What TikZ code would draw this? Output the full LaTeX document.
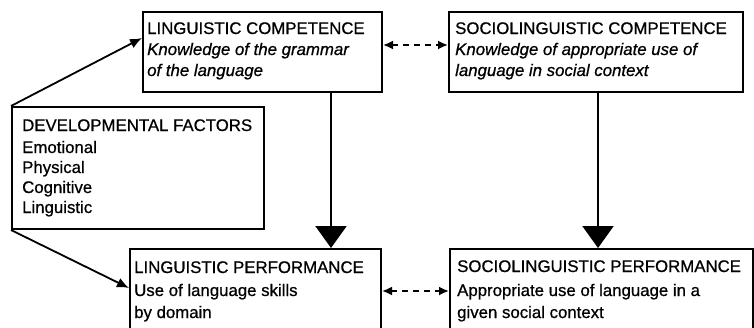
\documentclass[tikz,border=0pt]{standalone}
\usepackage{fontspec}
\setmainfont{Liberation Sans}[FakeBold=0.7]
\usetikzlibrary{arrows.meta,calc}
\begin{document}
\begin{tikzpicture}[x=1pt,y=-1pt,
  box/.style={draw, line width=2pt, inner sep=0pt, anchor=north west},
  ln/.style={anchor=base west, inner sep=0pt, font=\fontsize{16.8}{20}\selectfont},
  itl/.style={anchor=base west, inner sep=0pt, font=\fontsize{16.8}{20}\selectfont\itshape},
  arr/.style={line width=1.8pt, -{Latex[length=12pt,width=10pt]}},
  big/.style={line width=2.2pt, -{Triangle[length=22pt,width=31pt]}},
  dashboth/.style={line width=1.8pt, dash pattern=on 6pt off 5pt,
    {Latex[length=10pt,width=9pt]}-{Latex[length=10pt,width=9pt]}}]
\useasboundingbox (0,0) rectangle (754,327);
% boxes
\node[box, minimum width=239pt, minimum height=80pt] (lc) at (142,11) {};
\node[box, minimum width=294pt, minimum height=80pt] (sc) at (448,11) {};
\node[box, minimum width=252pt, minimum height=122pt] (df) at (11,106) {};
\node[box, minimum width=251pt, minimum height=100pt] (lp) at (129,248) {};
\node[box, minimum width=303pt, minimum height=100pt] (sp) at (449,248) {};
% texts
\node[ln] (lc1) at (147,34) {LINGUISTIC COMPETENCE};
\node[itl] (lc2) at (147,55) {Knowledge of the grammar};
\node[itl] (lc3) at (147,76) {of the language};
\node[ln] (sc1) at (455,34) {SOCIOLINGUISTIC COMPETENCE};
\node[itl] (sc2) at (455,55) {Knowledge of appropriate use of};
\node[itl] (sc3) at (455,76) {language in social context};
\node[ln] (df1) at (22,131) {DEVELOPMENTAL FACTORS};
\node[ln] (df2) at (22,153) {Emotional};
\node[ln] (df3) at (22,173) {Physical};
\node[ln] (df4) at (22,193) {Cognitive};
\node[ln] (df5) at (22,213) {Linguistic};
\node[ln] (lp1) at (134,273) {LINGUISTIC PERFORMANCE};
\node[ln] (lp2) at (134,296) {Use of language skills};
\node[ln] (lp3) at (134,318) {by domain};
\node[ln] (sp1) at (457,272) {SOCIOLINGUISTIC PERFORMANCE};
\node[ln] (sp2) at (457,296) {Appropriate use of language in a};
\node[ln] (sp3) at (457,318) {given social context};
% connectors
\draw[arr] (df.north west) -- ([yshift=14pt]lc.west);
\draw[arr] (df.south west) -- ([yshift=11pt]lp.west);
\draw[big] ([xshift=68.5pt]lc.south) -- ([xshift=68.5pt]lc.south |- lp.north);
\draw[big] ([xshift=2pt]sc.south) -- ([xshift=2pt]sc.south |- sp.north);
\draw[dashboth] ([yshift=7pt]lc.east) -- ([yshift=7pt]lc.east -| sc.west);
\draw[dashboth] ([yshift=8pt]lp.east) -- ([yshift=8pt]lp.east -| sp.west);
\end{tikzpicture}
\end{document}
